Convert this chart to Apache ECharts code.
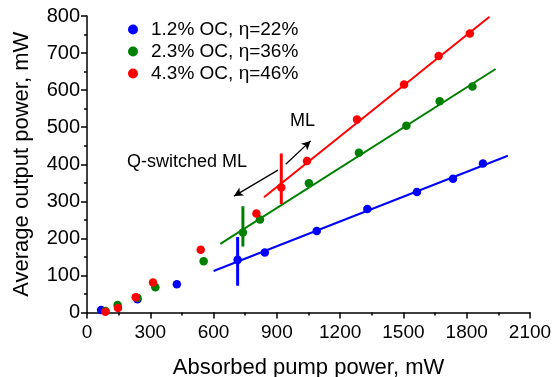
<!DOCTYPE html>
<html>
<head>
<meta charset="utf-8">
<script src="https://cdn.jsdelivr.net/npm/echarts@6/dist/echarts.min.js"></script>
<style>html,body{margin:0;padding:0;background:#fff;}#c{width:556px;height:377px;}</style>
</head>
<body>
<div id="c"></div>
<script>
// ---- data ----
const seriesNames = ['1.2% OC, η=22%', '2.3% OC, η=36%', '4.3% OC, η=46%'];
const colors = ['#0000ff', '#008000', '#ff0000'];

const blueX = [67, 239, 426, 714, 843, 1089, 1329, 1564, 1735, 1877];
const blueY = [7, 36, 76, 142, 162, 220, 279, 325, 361, 402];
const greenX = [88, 145, 239, 324, 553, 739, 820, 1052, 1289, 1514, 1672, 1827];
const greenY = [4, 20, 40, 68, 138, 216, 251, 349, 431, 504, 570, 610];
const redX = [87, 147, 231, 313, 539, 803, 921, 1043, 1280, 1503, 1667, 1815];
const redY = [2, 12, 41, 81, 169, 267, 337, 409, 521, 615, 692, 753];

// linear fits: [start, end]
const blueFitX = [600, 1995];  const blueFitY = [112, 423];
const greenFitX = [632, 1937]; const greenFitY = [185, 657];
const redFitX = [839, 1908];   const redFitY = [311, 798];

// error bars at mode-locking threshold
const errX = [714, 739, 921];
const errLow = [72, 178, 293];
const errHigh = [204, 287, 429];

// annotation arrows [x0, y0, x1, y1] (data units)
const qArrow = [905, 384, 697, 314];
const mlArrow = [942, 400, 1060, 463];

const xTicks = { min: 0, max: 2100, interval: 300 };
const yTicks = { min: 0, max: 800, interval: 100 };

// ---- build ----
const FONT = 'Liberation Sans';
const zip = (a, b) => a.map((v, i) => [v, b[i]]);
const pts = [zip(blueX, blueY), zip(greenX, greenY), zip(redX, redY)];
const fits = [zip(blueFitX, blueFitY), zip(greenFitX, greenFitY), zip(redFitX, redFitY)];

const series = [];
fits.forEach((d, i) => series.push({
  type: 'line', data: d, symbol: 'none', silent: true, z: 2,
  lineStyle: { color: colors[i], width: 2 }
}));
errX.forEach((x, i) => series.push({
  type: 'line', data: [[x, errLow[i]], [x, errHigh[i]]], symbol: 'none', silent: true, z: 3,
  lineStyle: { color: colors[i], width: 3 }
}));
series.push({
  type: 'line', data: [], symbol: 'none', silent: true,
  markLine: {
    silent: true, symbol: ['none', 'arrow'], symbolSize: [7, 9], label: { show: false },
    lineStyle: { color: '#000', width: 1.3, type: 'solid' },
    data: [
      [{ coord: [qArrow[0], qArrow[1]] }, { coord: [qArrow[2], qArrow[3]] }],
      [{ coord: [mlArrow[0], mlArrow[1]] }, { coord: [mlArrow[2], mlArrow[3]] }]
    ]
  }
});
pts.forEach((d, i) => series.push({
  name: seriesNames[i], type: 'scatter', data: d, symbol: 'circle', symbolSize: 8.5, z: 5 + i,
  itemStyle: { color: colors[i], opacity: 1 }
}));

const chart = echarts.init(document.getElementById('c'), null, { renderer: 'canvas' });
chart.setOption({
  animation: false,
  backgroundColor: '#fff',
  textStyle: { fontFamily: FONT },
  grid: { left: 87, right: 26, top: 16, bottom: 64.5, containLabel: false, outerBoundsMode: 'none' },
  legend: {
    data: seriesNames, orient: 'vertical', left: 128, top: 20, padding: 0,
    itemWidth: 10, itemHeight: 10, itemGap: 3, icon: 'circle',
    textStyle: { fontFamily: FONT, fontSize: 19, color: '#000', padding: [0, 0, 0, 8] }
  },
  xAxis: {
    type: 'value', min: xTicks.min, max: xTicks.max, interval: xTicks.interval,
    name: 'Absorbed pump power, mW', nameLocation: 'middle', nameGap: 44,
    nameTextStyle: { fontFamily: FONT, fontSize: 22, color: '#000' },
    axisLine: { show: true, lineStyle: { color: '#000', width: 1.5 } },
    axisTick: { show: true, length: 6, lineStyle: { color: '#000', width: 1.5 } },
    minorTick: { show: true, splitNumber: 2, length: 3, lineStyle: { color: '#000', width: 1.5 } },
    splitLine: { show: false },
    axisLabel: { fontFamily: FONT, fontSize: 19, color: '#000', margin: 11, formatter: v => String(v) }
  },
  yAxis: {
    type: 'value', min: yTicks.min, max: yTicks.max, interval: yTicks.interval,
    name: 'Average output power, mW', nameLocation: 'middle', nameGap: 54,
    nameTextStyle: { fontFamily: FONT, fontSize: 22, color: '#000' },
    axisLine: { show: true, lineStyle: { color: '#000', width: 1.5 } },
    axisTick: { show: true, length: 6, lineStyle: { color: '#000', width: 1.5 } },
    minorTick: { show: true, splitNumber: 2, length: 3, lineStyle: { color: '#000', width: 1.5 } },
    splitLine: { show: false },
    axisLabel: { fontFamily: FONT, fontSize: 20, color: '#000', margin: 7, formatter: v => String(v) }
  },
  graphic: [
    { type: 'text', left: 127, top: 153, style: { text: 'Q-switched ML', fontFamily: FONT, fontSize: 18, fill: '#000' } },
    { type: 'text', left: 290, top: 112, style: { text: 'ML', fontFamily: FONT, fontSize: 18, fill: '#000' } }
  ],
  series: series
});
</script>
</body>
</html>
